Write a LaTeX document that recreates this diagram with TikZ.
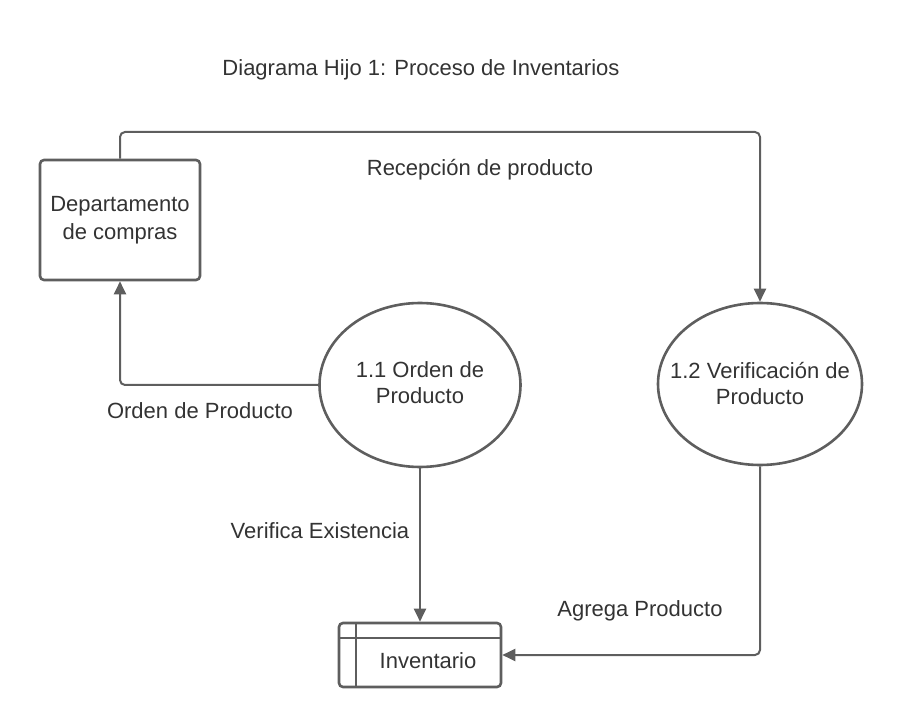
\documentclass[tikz,border=0pt]{standalone}
\usepackage{fontspec}
\setmainfont{Liberation Sans}
\usetikzlibrary{shapes.geometric,arrows.meta}
\definecolor{ln}{HTML}{5E5E5E}
\definecolor{tx}{HTML}{333333}
\begin{document}
\begin{tikzpicture}[x=1pt,y=-1pt,
  lbl/.style={text=tx,font=\fontsize{22}{27}\selectfont,inner sep=0pt},
  proc/.style={draw=ln,line width=2.6pt,ellipse,inner sep=0pt,inner xsep=-25pt,text=tx,align=center,font=\fontsize{22}{26}\selectfont},
  flow/.style={draw=ln,line width=2pt,rounded corners=5pt,-{Triangle[length=13pt,width=12pt]}}]
\useasboundingbox (0,0) rectangle (900,727);
\node[lbl] (title) at (421,70) {Diagrama Hijo 1: Proceso de Inventarios};
\node[draw=ln,line width=2.6pt,rounded corners=4pt,minimum width=160pt,minimum height=120pt,inner sep=0pt,text=tx,align=center,font=\fontsize{22}{28}\selectfont] (dep) at (120,220) {Departamento\\de compras};
\node[proc,minimum width=201pt,minimum height=164pt] (p1) at (420,385) {1.1 Orden de\\Producto\vphantom{p}};
\node[proc,minimum width=204pt,minimum height=162pt] (p2) at (760,384) {1.2 Verificación de\\Producto};
\node[draw=ln,line width=2.6pt,rounded corners=4pt,minimum width=162pt,minimum height=64pt,inner sep=0pt] (inv) at (420,655) {};
\node[lbl] (invt) at (428,661) {Inventario};
\coordinate (invA) at (356,623);
\coordinate (invB) at (356,687);
\coordinate (invC) at (339,638);
\coordinate (invD) at (501,638);
\draw[ln,line width=2.6pt] (invA) -- (invB) (invC) -- (invD);
\coordinate (c1) at (120,132);
\coordinate (c2) at (760,132);
\draw[flow] (dep.north) -- (c1) -- (c2) -- (p2.north);
\coordinate (c3) at (120,385);
\draw[flow] (p1.west) -- (c3) -- (dep.south);
\draw[flow] (p1.south) -- (inv.north);
\coordinate (c4) at (760,655);
\draw[flow] (p2.south) -- (c4) -- (inv.east);
\node[lbl] (l1) at (480,170) {Recepción de producto};
\node[lbl] (l2) at (200,411) {Orden de Producto};
\node[lbl] (l3) at (320,531) {Verifica Existencia};
\node[lbl] (l4) at (640,611) {Agrega Producto};
\end{tikzpicture}
\end{document}
